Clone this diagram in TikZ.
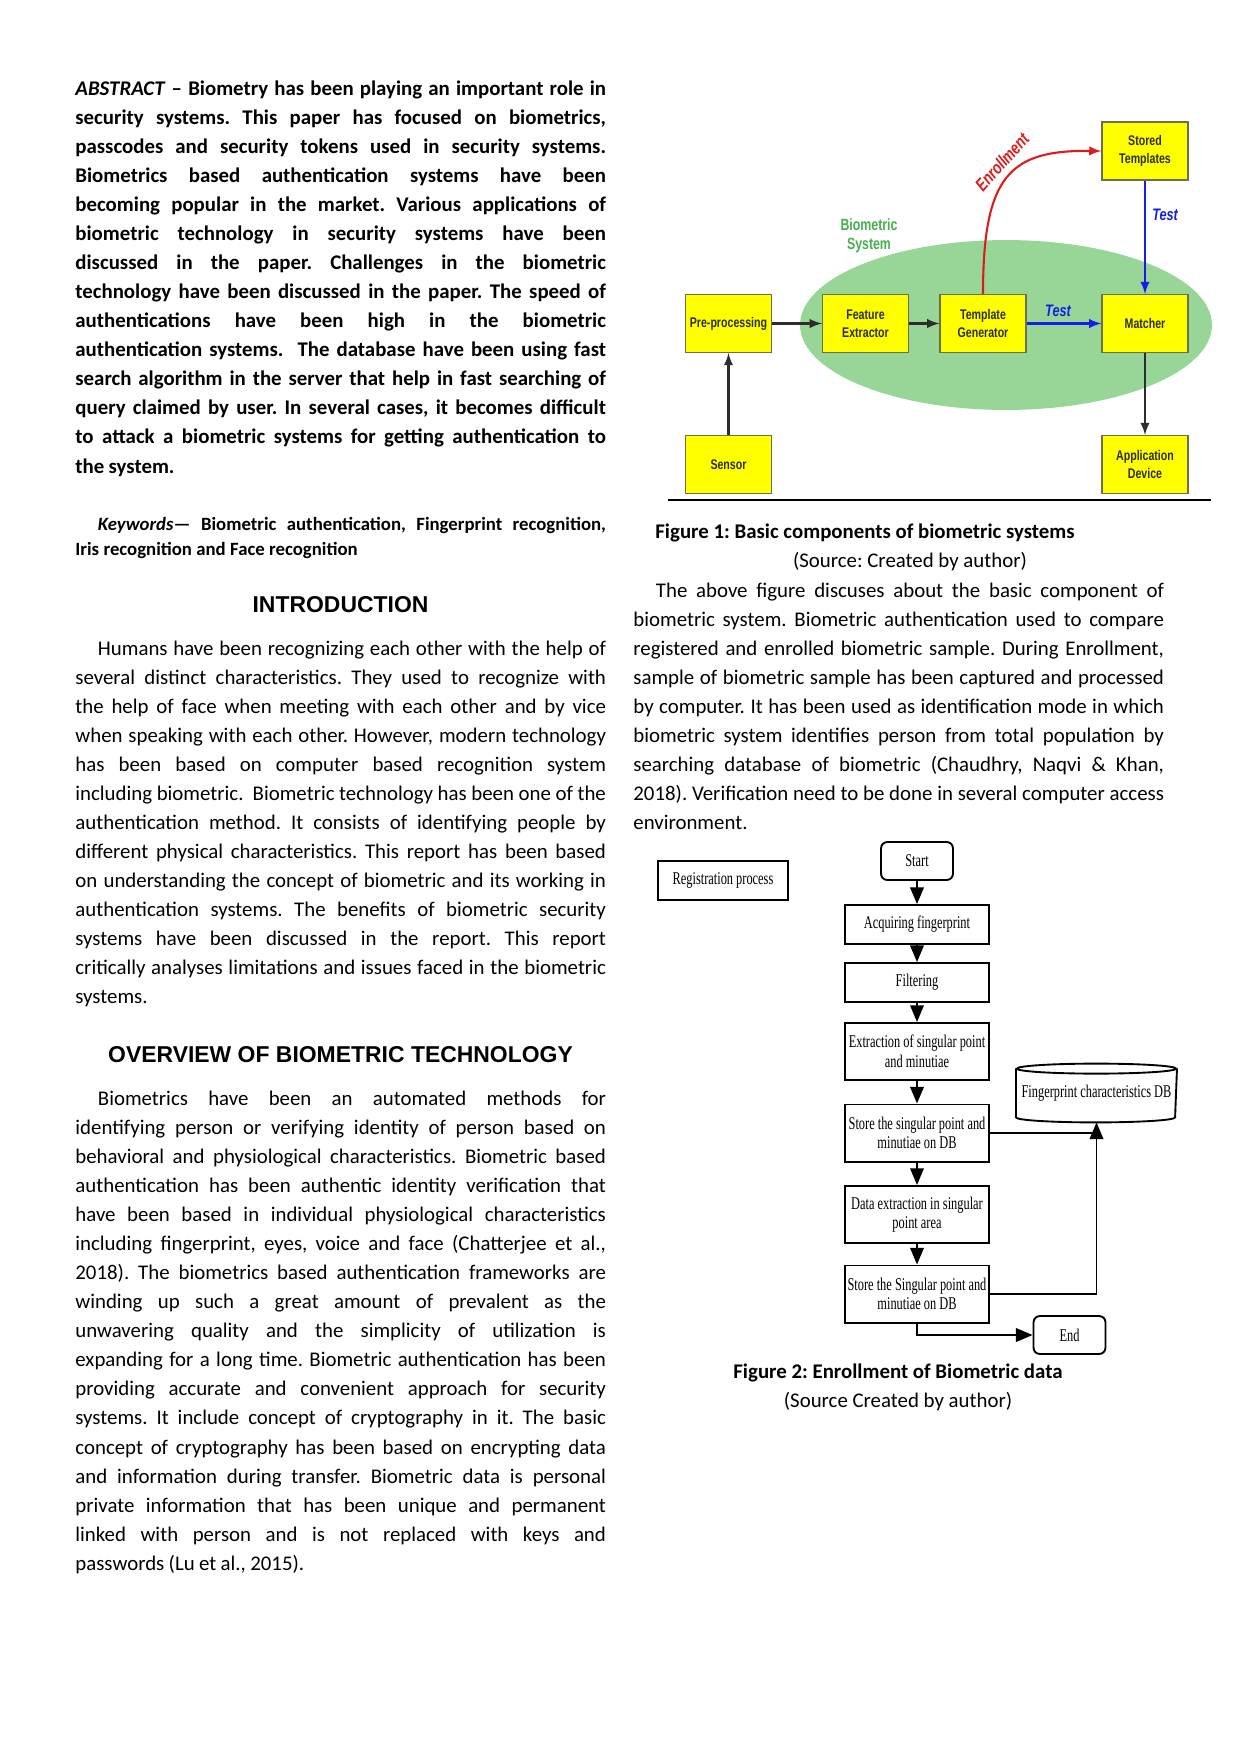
\documentclass[tikz,border=0pt]{standalone}
\usepackage{fontspec}
\setmainfont{Carlito}
\newfontfamily\headfont{Liberation Sans}
\newfontfamily\blockfont[FakeStretch=0.76]{Liberation Sans}
\newfontfamily\flowfont[FakeStretch=0.69]{Liberation Serif}
\usetikzlibrary{shapes.geometric,arrows.meta,positioning}
\frenchspacing

\definecolor{blockyellow}{RGB}{255,255,0}
\definecolor{blockedge}{RGB}{110,110,80}
\definecolor{sysgreen}{RGB}{152,214,152}
\definecolor{labelgreen}{RGB}{70,175,80}
\definecolor{testblue}{RGB}{20,30,230}
\definecolor{enrolred}{RGB}{225,25,25}
\definecolor{inkgray}{RGB}{45,45,45}

% one justified line, and the last line of a paragraph
\newdimen\colw
\colw=254.5pt
\newcommand{\jl}[1]{\noindent\hbox to\colw{\spaceskip=2.1pt plus 6pt minus 0.9pt #1}\par}
\newcommand{\lastline}[1]{\noindent\hbox{\spaceskip=2.1pt plus 1pt minus 0.5pt #1}\par}
\newcommand{\ind}{\hskip 10.8pt}

\begin{document}
\begin{tikzpicture}
    [
        x=0.47968pt, y=-0.47968pt,
        para/.style={anchor=base west, inner sep=0pt, text width=\colw,
            font=\fontsize{10}{13.95}\selectfont},
        heading/.style={anchor=base, inner sep=0pt,
            font=\headfont\bfseries\fontsize{11}{13}\selectfont},
        block/.style={draw=blockedge, fill=blockyellow, line width=0.6pt,
            minimum width=41.3pt, minimum height=27.8pt, inner sep=1pt,
            align=center, text=inkgray,
            font=\blockfont\bfseries\fontsize{6.7}{8.5}\selectfont},
        flow/.style={->, >=latex, line width=1pt, draw=inkgray},
        testflow/.style={->, >=latex, line width=1pt, draw=testblue},
        testlabel/.style={text=testblue, inner sep=1pt,
            font=\blockfont\bfseries\itshape\fontsize{8}{9}\selectfont},
        enrol/.style={->, >=latex, line width=1pt, draw=enrolred},
        flowstep/.style={draw, line width=0.9pt, minimum width=69.1pt,
            minimum height=18.7pt, inner sep=1pt, align=center,
            font=\flowfont\fontsize{8.6}{9.4}\selectfont},
        tall/.style={minimum height=27.4pt},
        terminal/.style={flowstep, rounded corners=3pt, minimum width=34.5pt,
            minimum height=18.2pt},
        flowarrow/.style={-{Triangle[width=6.5pt,length=8pt]}, line width=0.9pt},
        flowline/.style={line width=0.9pt}
    ]
    \fill[white] (0,0) rectangle (1241,1754);
    \useasboundingbox (0,0) rectangle (1241,1754);

    % left column
    \node[para] (abstract) at (75,95) {\bfseries
        \jl{\textit{ABSTRACT} – Biometry has been playing an important role in}
        \jl{security systems. This paper has focused on biometrics,}
        \jl{passcodes and security tokens used in security systems.}
        \jl{Biometrics based authentication systems have been}
        \jl{becoming popular in the market. Various applications of}
        \jl{biometric technology in security systems have been}
        \jl{discussed in the paper. Challenges in the biometric}
        \jl{technology have been discussed in the paper. The speed of}
        \jl{authentications have been high in the biometric}
        \jl{authentication systems.\ \ The database have been using fast}
        \jl{search algorithm in the server that help in fast searching of}
        \jl{query claimed by user. In several cases, it becomes difficult}
        \jl{to attack a biometric systems for getting authentication to}
        \lastline{the system.}};

    \node[para, font=\bfseries\fontsize{9}{12}\selectfont] (keywords) at (75,530) {
        \jl{\ind\textit{Keywords}— Biometric authentication, Fingerprint recognition,}
        \lastline{Iris recognition and Face recognition}};

    \node[heading] (intro) at (340.5,612) {INTRODUCTION};

    \node[para] (introtext) at (75,655) {
        \jl{\ind Humans have been recognizing each other with the help of}
        \jl{several distinct characteristics. They used to recognize with}
        \jl{the help of face when meeting with each other and by vice}
        \jl{when speaking with each other. However, modern technology}
        \jl{has been based on computer based recognition system}
        \jl{including biometric.\ \ Biometric technology has been one of the}
        \jl{authentication method. It consists of identifying people by}
        \jl{different physical characteristics. This report has been based}
        \jl{on understanding the concept of biometric and its working in}
        \jl{authentication systems. The benefits of biometric security}
        \jl{systems have been discussed in the report. This report}
        \jl{critically analyses limitations and issues faced in the biometric}
        \lastline{systems.}};

    \node[heading] (overview) at (340.5,1062) {OVERVIEW OF BIOMETRIC TECHNOLOGY};

    \node[para] (overviewtext) at (75,1105) {
        \jl{\ind Biometrics have been an automated methods for}
        \jl{identifying person or verifying identity of person based on}
        \jl{behavioral and physiological characteristics. Biometric based}
        \jl{authentication has been authentic identity verification that}
        \jl{have been based in individual physiological characteristics}
        \jl{including fingerprint, eyes, voice and face (Chatterjee et al.,}
        \jl{2018). The biometrics based authentication frameworks are}
        \jl{winding up such a great amount of prevalent as the}
        \jl{unwavering quality and the simplicity of utilization is}
        \jl{expanding for a long time. Biometric authentication has been}
        \jl{providing accurate and convenient approach for security}
        \jl{systems. It include concept of cryptography in it. The basic}
        \jl{concept of cryptography has been based on encrypting data}
        \jl{and information during transfer. Biometric data is personal}
        \jl{private information that has been unique and permanent}
        \jl{linked with person and is not replaced with keys and}
        \lastline{passwords (Lu et al., 2015).}};

    % figure 1
    \node[ellipse, fill=sysgreen, minimum width=197.6pt, minimum height=81.5pt,
        inner sep=0pt] (biosys) at (1006,325) {};
    \node[align=center, text=labelgreen, inner sep=0pt,
        font=\blockfont\bfseries\fontsize{7.8}{9}\selectfont] (syslabel) at (869,236) {Biometric\\System};

    \node[block] (pre) at (728.5,323.5) {Pre-processing};
    \node[block] (fext) at (865.5,323.5) {Feature\\Extractor};
    \node[block] (tgen) at (983,323.5) {Template\\Generator};
    \node[block] (match) at (1145,323.5) {Matcher};
    \node[block] (stored) at (1145,151) {Stored\\Templates};
    \node[block] (sensor) at (728.5,464.5) {Sensor};
    \node[block] (appdev) at (1145,464.5) {Application\\Device};

    \draw[flow] (pre) -- (fext);
    \draw[flow] (fext) -- (tgen);
    \draw[flow] (sensor) -- (pre);
    \draw[flow] (match) -- (appdev);
    \draw[testflow] (stored) -- node[testlabel, pos=0.3, right=2pt] {Test} (match);
    \draw[testflow] (tgen) -- node[testlabel, pos=0.42, above=2pt] {Test} (match);
    \draw[enrol] (tgen.north) .. controls (983,175) and (1010,150) .. (stored.west);
    \node[testlabel, text=enrolred, rotate=48, font=\blockfont\bfseries\itshape\fontsize{8.5}{9}\selectfont]
        (enroltext) at (1002,162) {Enrollment};

    \draw[line width=1.4pt] (668,500) -- (1211,500);

    % right column
    \node[anchor=base west, inner sep=0pt, font=\bfseries\fontsize{10}{12}\selectfont] (cap1)
        at (655,538) {Figure 1: Basic components of biometric systems};
    \node[anchor=base, inner sep=0pt, font=\fontsize{10}{12}\selectfont] (src1)
        at (910,567) {(Source: Created by author)};

    \node[para] (figtext) at (633,597) {
        \jl{\ind The above figure discuses about the basic component of}
        \jl{biometric system. Biometric authentication used to compare}
        \jl{registered and enrolled biometric sample. During Enrollment,}
        \jl{sample of biometric sample has been captured and processed}
        \jl{by computer. It has been used as identification mode in which}
        \jl{biometric system identifies person from total population by}
        \jl{searching database of biometric (Chaudhry, Naqvi \& Khan,}
        \jl{2018). Verification need to be done in several computer access}
        \lastline{environment.}};

    % figure 2
    \node[flowstep, minimum width=62.4pt] (reg) at (723,880.5) {Registration process};
    \node[terminal] (start) at (917,861) {Start};
    \node[flowstep] (acq) at (917,924.5) {Acquiring fingerprint};
    \node[flowstep] (filt) at (917,982.5) {Filtering};
    \node[flowstep, tall] (extr) at (917,1051.5) {Extraction of singular point\\and minutiae};
    \node[flowstep, tall] (storeA) at (917,1133) {Store the singular point and\\minutiae on DB};
    \node[flowstep, tall] (dext) at (917,1214.5) {Data extraction in singular\\point area};
    \node[flowstep, tall] (storeB) at (917,1294) {Store the Singular point and\\minutiae on DB};
    \node[terminal] (finish) at (1069.5,1335) {End};
    \node[flowstep, draw=none, minimum width=76.3pt, minimum height=27.3pt] (fpdb)
        at (1096.5,1093) {Fingerprint characteristics DB};
    \draw[flowline] ([yshift=-2.4pt]fpdb.north west) -- ([yshift=2.4pt]fpdb.south west)
        arc[start angle=180, end angle=360, x radius=38.15pt, y radius=2.4pt]
        -- ([yshift=-2.4pt]fpdb.north east);
    \draw[flowline] ([yshift=-2.4pt]fpdb.north) ellipse[x radius=38.15pt, y radius=2.4pt];

    \foreach \a/\b in {start/acq, acq/filt, filt/extr, extr/storeA, storeA/dext, dext/storeB}
        \draw[flowarrow] (\a) -- (\b);
    \coordinate (dbjoin) at (fpdb.south |- storeA.east);
    \draw[flowline] (storeA.east) -- (dbjoin);
    \draw[flowarrow] (storeB.east) -| (fpdb.south);
    \draw[flowarrow] (storeB.south) |- (finish.west);

    \node[anchor=base, inner sep=0pt, font=\bfseries\fontsize{10}{12}\selectfont] (cap2)
        at (898,1378) {Figure 2: Enrollment of Biometric data};
    \node[anchor=base, inner sep=0pt, font=\fontsize{10}{12}\selectfont] (src2)
        at (898,1407) {(Source Created by author)};
\end{tikzpicture}
\end{document}
